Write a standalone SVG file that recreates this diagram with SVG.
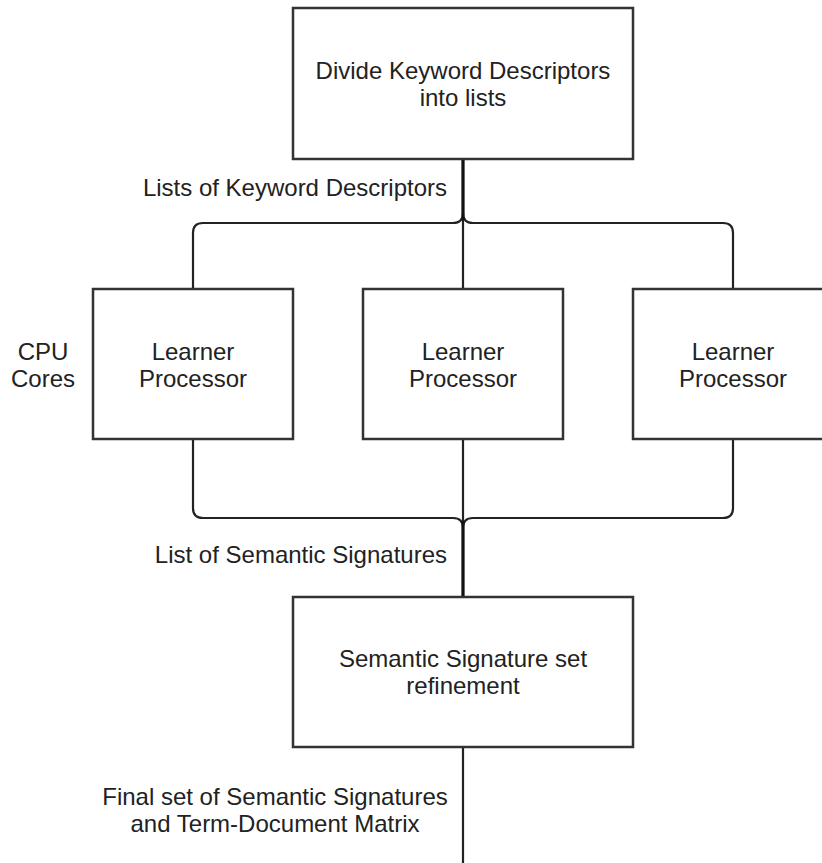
<svg xmlns="http://www.w3.org/2000/svg" width="822" height="863" viewBox="0 0 822 863">
  <style>
    .box { fill: #ffffff; stroke: #333333; stroke-width: 2.5; }
    .edge { fill: none; stroke: #222222; stroke-width: 2.2; }
    .trunk { fill: none; stroke: #111111; stroke-width: 3; }
    text { font-family: "Liberation Sans", Arial, Helvetica, sans-serif; font-size: 24px; fill: #222222; }
    .c { text-anchor: middle; }
    .e { text-anchor: end; }
  </style>
  <rect width="822" height="863" fill="#ffffff"/>
  <g id="connectors">
    <path class="edge" d="M463,159 V289"/>
    <path class="edge" d="M463,159 V213 Q463,223 453,223 H203 Q193,223 193,233 V289"/>
    <path class="edge" d="M463,159 V213 Q463,223 473,223 H723 Q733,223 733,233 V289"/>
    <path class="trunk" d="M463,159 V220"/>
    <path class="edge" d="M463,439 V597"/>
    <path class="edge" d="M193,439 V508 Q193,518 203,518 H453 Q463,518 463,528 V597"/>
    <path class="edge" d="M733,439 V508 Q733,518 723,518 H473 Q463,518 463,528 V597"/>
    <path class="trunk" d="M463,521 V597"/>
    <path class="edge" d="M463,747 V863"/>
  </g>
  <g id="divide">
    <rect class="box" x="293" y="8" width="340" height="151"/>
    <text class="c" x="463" y="79">Divide Keyword Descriptors</text>
    <text class="c" x="463" y="106">into lists</text>
  </g>
  <g id="label-lists">
    <text class="e" x="447" y="196">Lists of Keyword Descriptors</text>
  </g>
  <g id="label-cpu">
    <text class="c" x="43" y="360">CPU</text>
    <text class="c" x="43" y="387">Cores</text>
  </g>
  <g id="learner1">
    <rect class="box" x="93" y="289" width="200" height="150"/>
    <text class="c" x="193" y="360">Learner</text>
    <text class="c" x="193" y="387">Processor</text>
  </g>
  <g id="learner2">
    <rect class="box" x="363" y="289" width="200" height="150"/>
    <text class="c" x="463" y="360">Learner</text>
    <text class="c" x="463" y="387">Processor</text>
  </g>
  <g id="learner3">
    <rect class="box" x="633" y="289" width="200" height="150"/>
    <text class="c" x="733" y="360">Learner</text>
    <text class="c" x="733" y="387">Processor</text>
  </g>
  <g id="label-semantic">
    <text class="e" x="447" y="563">List of Semantic Signatures</text>
  </g>
  <g id="refinement">
    <rect class="box" x="293" y="597" width="340" height="150"/>
    <text class="c" x="463" y="667">Semantic Signature set</text>
    <text class="c" x="463" y="694">refinement</text>
  </g>
  <g id="label-final">
    <text class="c" x="275" y="805">Final set of Semantic Signatures</text>
    <text class="c" x="275" y="832">and Term-Document Matrix</text>
  </g>
</svg>
